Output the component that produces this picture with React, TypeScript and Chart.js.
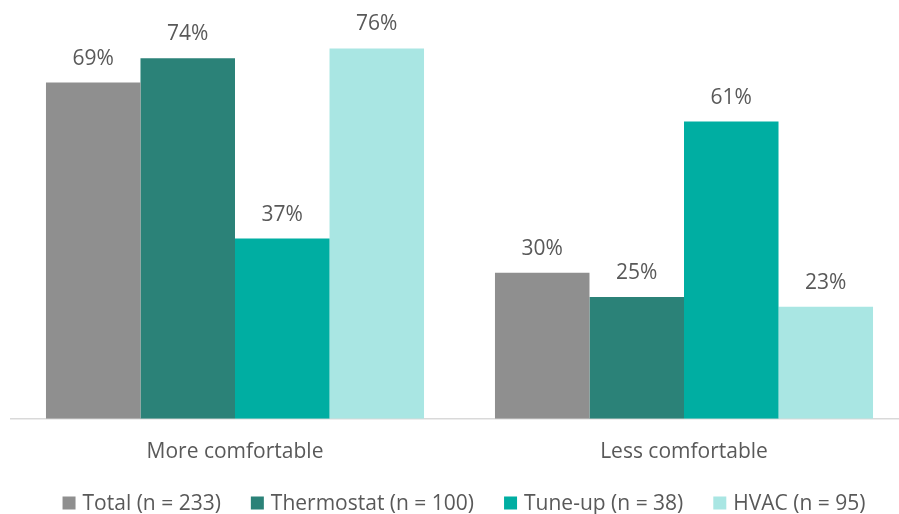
import React, { useEffect, useRef } from "react";
import { Chart, registerables } from "chart.js";

Chart.register(...registerables);

const categories = ["More comfortable", "Less comfortable"];
const seriesNames = ["Total (n = 233)", "Thermostat (n = 100)", "Tune-up (n = 38)", "HVAC (n = 95)"];
const totalValues = [69, 30];
const thermostatValues = [74, 25];
const tuneUpValues = [37, 61];
const hvacValues = [76, 23];
const seriesColors = ["#8f8f8f", "#2b8278", "#00aea2", "#a9e6e3"];

const FONT = "'Open Sans', 'Noto Sans', sans-serif";
const TEXT = "#595959";

// Draws the percentage above each bar
const valueLabels = {
  id: "valueLabels",
  afterDatasetsDraw(chart: any) {
    const ctx = chart.ctx;
    ctx.save();
    ctx.font = `21px ${FONT}`;
    ctx.fillStyle = TEXT;
    ctx.textAlign = "center";
    ctx.textBaseline = "middle";
    chart.data.datasets.forEach((ds: any, i: number) => {
      const meta = chart.getDatasetMeta(i);
      meta.data.forEach((bar: any, j: number) => {
        ctx.fillText(`${ds.data[j]}%`, bar.x, bar.y - 24);
      });
    });
    ctx.restore();
  },
};

// Single-row legend under the axis labels, centred on the visible area
const bottomLegend = {
  id: "bottomLegend",
  afterDraw(chart: any) {
    const ctx = chart.ctx;
    const box = 13;
    const textGap = 7;
    const itemGap = 30;
    const cy = 503;
    ctx.save();
    ctx.font = `21px ${FONT}`;
    ctx.textBaseline = "middle";
    ctx.textAlign = "left";
    const items = chart.data.datasets.map((ds: any) => ({
      label: ds.label,
      color: ds.backgroundColor,
      w: box + textGap + ctx.measureText(ds.label).width,
    }));
    const total = items.reduce((s: number, it: any) => s + it.w, 0) + itemGap * (items.length - 1);
    let x = 464 - total / 2;
    items.forEach((it: any) => {
      ctx.fillStyle = it.color;
      ctx.fillRect(x, cy - box / 2, box, box);
      ctx.fillStyle = TEXT;
      ctx.fillText(it.label, x + box + textGap, cy + 1);
      x += it.w + itemGap;
    });
    ctx.restore();
  },
};

export default function App() {
  const ref = useRef<HTMLCanvasElement>(null);

  useEffect(() => {
    const values = [totalValues, thermostatValues, tuneUpValues, hvacValues];
    const chart = new Chart(ref.current!, {
      type: "bar",
      data: {
        labels: categories,
        datasets: seriesNames.map((name, i) => ({
          label: name,
          data: values[i],
          backgroundColor: seriesColors[i],
          borderWidth: 0,
          categoryPercentage: 0.842,
          barPercentage: 1,
        })),
      },
      options: {
        animation: false,
        responsive: false,
        maintainAspectRatio: false,
        layout: { padding: { left: 10.5, right: 11.5, top: 29, bottom: 36 } },
        plugins: {
          tooltip: { enabled: false },
          legend: { display: false },
        },
        scales: {
          x: {
            grid: { display: false },
            border: { display: true, color: "#d9d9d9", width: 1.5 },
            ticks: { color: TEXT, font: { family: FONT, size: 21 }, padding: 13 },
          },
          y: {
            display: false,
            min: 0,
            max: 80,
          },
        },
      },
      plugins: [valueLabels, bottomLegend],
    });
    return () => chart.destroy();
  }, []);

  return (
    <div style={{ position: "fixed", left: 0, top: 0, width: 899, height: 514, overflow: "hidden", background: "#fff" }}>
      <canvas ref={ref} width={920} height={514} style={{ display: "block" }} />
    </div>
  );
}
